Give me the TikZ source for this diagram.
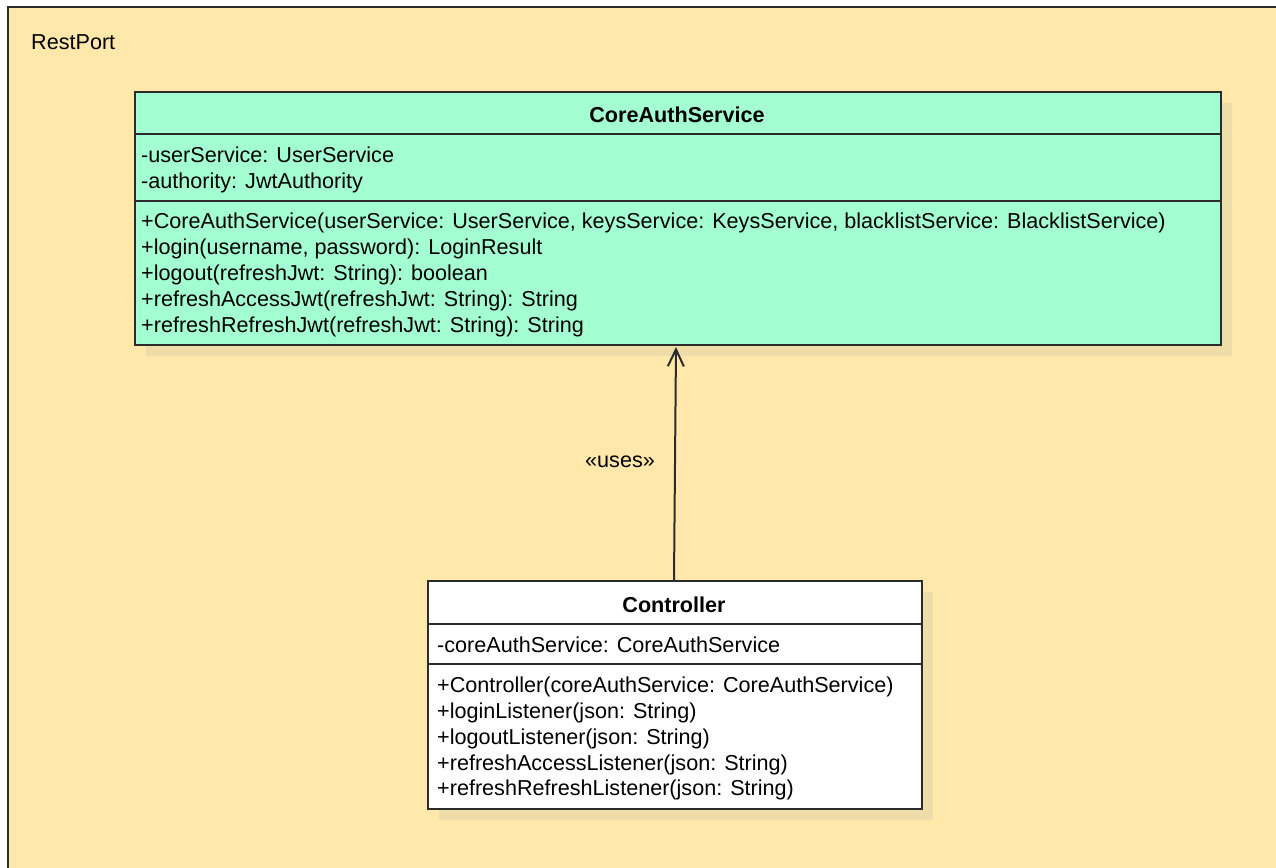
\documentclass[tikz,border=0pt]{standalone}
\usepackage{fontspec}
\setmainfont{Liberation Sans}
\usetikzlibrary{arrows.meta,calc}
\definecolor{pkgfill}{HTML}{FFE8AA}
\definecolor{classgreen}{HTML}{A3FFD2}
\definecolor{shadowc}{HTML}{EFDDA9}
\definecolor{edge}{HTML}{2B2B2B}
\begin{document}
\begin{tikzpicture}[x=1pt,y=-1pt,
  classbox/.style={draw=edge,line width=2pt,rectangle,anchor=north west,inner sep=0pt},
  member/.style={anchor=base west,inner sep=0pt,text=black,font=\fontsize{21.6}{26}\selectfont},
  classtitle/.style={anchor=base,inner sep=0pt,text=black,font=\fontsize{21.6}{26}\selectfont\bfseries},
  divider/.style={draw=edge,line width=2pt},
  uses/.style={draw=edge,line width=2pt,-{Straight Barb[length=17pt,width=16pt,line width=2pt]}}
]
\useasboundingbox (0,0) rectangle (1276,867);
\clip (0,0) rectangle (1276,867);
\fill[white] (0,0) rectangle (1276,867);

% package frame
\draw[edge,line width=2pt,fill=pkgfill] (8,7) rectangle (1300,900);
\node[member] (pkglabel) at (31,50) {RestPort};

% CoreAuthService class
\fill[shadowc] (146,103) rectangle (1232,356);
\node[classbox,fill=classgreen,minimum width=1086pt,minimum height=253pt] (core) at (134,91) {};
\draw[divider] (core.west |- 0,134) -- (core.east |- 0,134);
\draw[divider] (core.west |- 0,201) -- (core.east |- 0,201);
\node[classtitle] (coretitle) at (677,122) {CoreAuthService};
\node[member] (ca1) at (141,162) {-userService: UserService};
\node[member] (ca2) at (141,188) {-authority: JwtAuthority};
\node[member] (cm1) at (141,228) {+CoreAuthService(userService: UserService, keysService: KeysService, blacklistService: BlacklistService)};
\node[member] (cm2) at (141,254) {+login(username, password): LoginResult};
\node[member] (cm3) at (141,280) {+logout(refreshJwt: String): boolean};
\node[member] (cm4) at (141,306) {+refreshAccessJwt(refreshJwt: String): String};
\node[member] (cm5) at (141,332) {+refreshRefreshJwt(refreshJwt: String): String};

% Controller class
\fill[shadowc] (439,592) rectangle (933,820);
\node[classbox,fill=white,minimum width=494pt,minimum height=228pt] (ctrl) at (427,580) {};
\draw[divider] (ctrl.west |- 0,624) -- (ctrl.east |- 0,624);
\draw[divider] (ctrl.west |- 0,664) -- (ctrl.east |- 0,664);
\node[classtitle] (ctrltitle) at (674,612) {Controller};
\node[member] (ta1) at (437,652) {-coreAuthService: CoreAuthService};
\node[member] (tm1) at (437,692) {+Controller(coreAuthService: CoreAuthService)};
\node[member] (tm2) at (437,718) {+loginListener(json: String)};
\node[member] (tm3) at (437,744) {+logoutListener(json: String)};
\node[member] (tm4) at (437,770) {+refreshAccessListener(json: String)};
\node[member] (tm5) at (437,795) {+refreshRefreshListener(json: String)};

% dependency
\draw[uses] ([xshift=-1pt]ctrl.north) -- ([xshift=-2pt,yshift=-1pt]core.south);
\node[anchor=base,inner sep=0pt,font=\fontsize{21.6}{26}\selectfont] (useslabel) at (620,467) {«uses»};
\end{tikzpicture}
\end{document}
